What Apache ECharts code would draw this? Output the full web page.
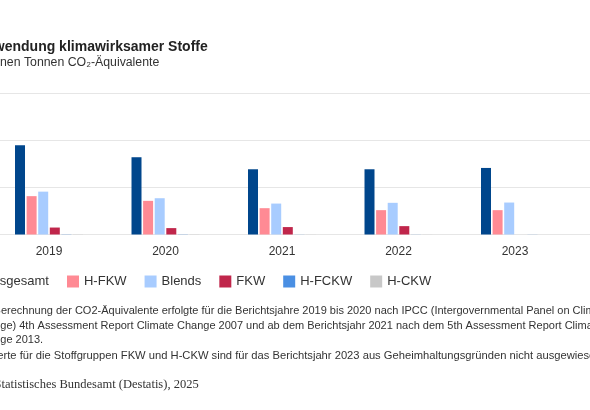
<!DOCTYPE html>
<html>
<head>
<meta charset="utf-8">
<script src="https://cdn.jsdelivr.net/npm/echarts@6/dist/echarts.min.js"></script>
<style>
  html, body { margin: 0; padding: 0; background: #fff; overflow: hidden; }
  #chart { width: 590px; height: 410px; }
</style>
</head>
<body>
<div id="chart"></div>
<script>
  // Werte in Mio. t CO2-Äquivalente
  var years = ['2019', '2020', '2021', '2022', '2023'];
  var insgesamt = [9.49, 8.22, 6.94, 6.94, 7.08];
  var hfkw = [4.08, 3.58, 2.80, 2.59, 2.59];
  var blends = [4.56, 3.86, 3.29, 3.37, 3.40];
  var fkw = [0.74, 0.68, 0.79, 0.89, null];
  var hfckw = [0.02, 0.02, 0.01, 0.01, 0.01];
  var hckw = [0.02, 0.02, 0.01, 0.01, null];
  var seriesNames = ['Insgesamt', 'H-FKW', 'Blends', 'FKW', 'H-FCKW', 'H-CKW'];
  var seriesColors = ['#00468c', '#ff8a94', '#a8ccff', '#c0264b', '#4a8fe3', '#c8c8c8'];
  var yTicks = [0, 15, 5];

  var title = 'Verwendung klimawirksamer Stoffe';
  var subTitle = 'Millionen Tonnen CO₂-Äquivalente';
  var notes = [
    'Die Berechnung der CO2-Äquivalente erfolgte für die Berichtsjahre 2019 bis 2020 nach IPCC (Intergovernmental Panel on Climate',
    'Change) 4th Assessment Report Climate Change 2007 und ab dem Berichtsjahr 2021 nach dem 5th Assessment Report Climate',
    'Change 2013.',
    'Die Werte für die Stoffgruppen FKW und H-CKW sind für das Berichtsjahr 2023 aus Geheimhaltungsgründen nicht ausgewiesen.'
  ];
  var source = 'Statistisches Bundesamt (Destatis), 2025';

  var FONT = '"Liberation Sans", Arial, sans-serif';
  var myChart = echarts.init(document.getElementById('chart'));

  // x-Achse als Index der Jahre, damit die Plotfläche über den Bildrand hinausgeht
  var yearIdx = years.map(function (y, i) { return i; });
  var values = [insgesamt, hfkw, blends, fkw, hfckw, hckw];
  var series = values.map(function (d, i) {
    return {
      name: seriesNames[i],
      type: 'bar',
      barWidth: 10,
      barGap: '16%',
      itemStyle: { color: seriesColors[i] },
      data: d.map(function (v, j) { return [j, v]; })
    };
  });

  var noteX = [-26, -26, -26, -33];
  var noteY = [311, 325.5, 340, 355.5];
  var graphics = [
    { type: 'text', left: -28, top: 40.5, style: { text: title, font: 'bold 14px ' + FONT, fill: '#222' } },
    { type: 'text', left: -28, top: 57, style: { text: subTitle, font: '12.3px ' + FONT, fill: '#333' } }
  ];
  notes.forEach(function (t, i) {
    graphics.push({ type: 'text', x: noteX[i], y: noteY[i], style: { text: t, font: (i === 3 ? '11.2px ' : '11px ') + FONT, fill: '#333', verticalAlign: 'middle' } });
  });
  graphics.push({ type: 'text', x: -5.5, y: 385, style: { text: source, font: '12.5px "Liberation Serif", "Times New Roman", serif', fill: '#333', verticalAlign: 'middle' } });

  var option = {
    animation: false,
    color: seriesColors,
    graphic: graphics,
    legend: {
      left: -33,
      top: 270,
      itemWidth: 12,
      itemHeight: 12,
      itemGap: 18,
      icon: 'rect',
      textStyle: { fontFamily: FONT, fontSize: 13, color: '#333' },
      data: seriesNames
    },
    grid: { left: -3, right: -3, top: 93.5, bottom: 175.5, outerBoundsMode: 'none' },
    xAxis: {
      type: 'value',
      min: -0.4464,
      max: 4.6695,
      axisLine: { show: false },
      axisTick: { show: false },
      splitLine: { show: false },
      axisLabel: {
        customValues: yearIdx,
        formatter: function (v) { return years[Math.round(v)]; },
        margin: 11, fontFamily: FONT, fontSize: 12, color: '#333'
      }
    },
    yAxis: {
      type: 'value',
      min: yTicks[0],
      max: yTicks[1],
      interval: yTicks[2],
      axisLabel: { show: false },
      axisLine: { show: false },
      axisTick: { show: false },
      splitLine: { lineStyle: { color: '#e6e6e6', width: 1 } }
    },
    series: series
  };
  myChart.setOption(option);
</script>
</body>
</html>
